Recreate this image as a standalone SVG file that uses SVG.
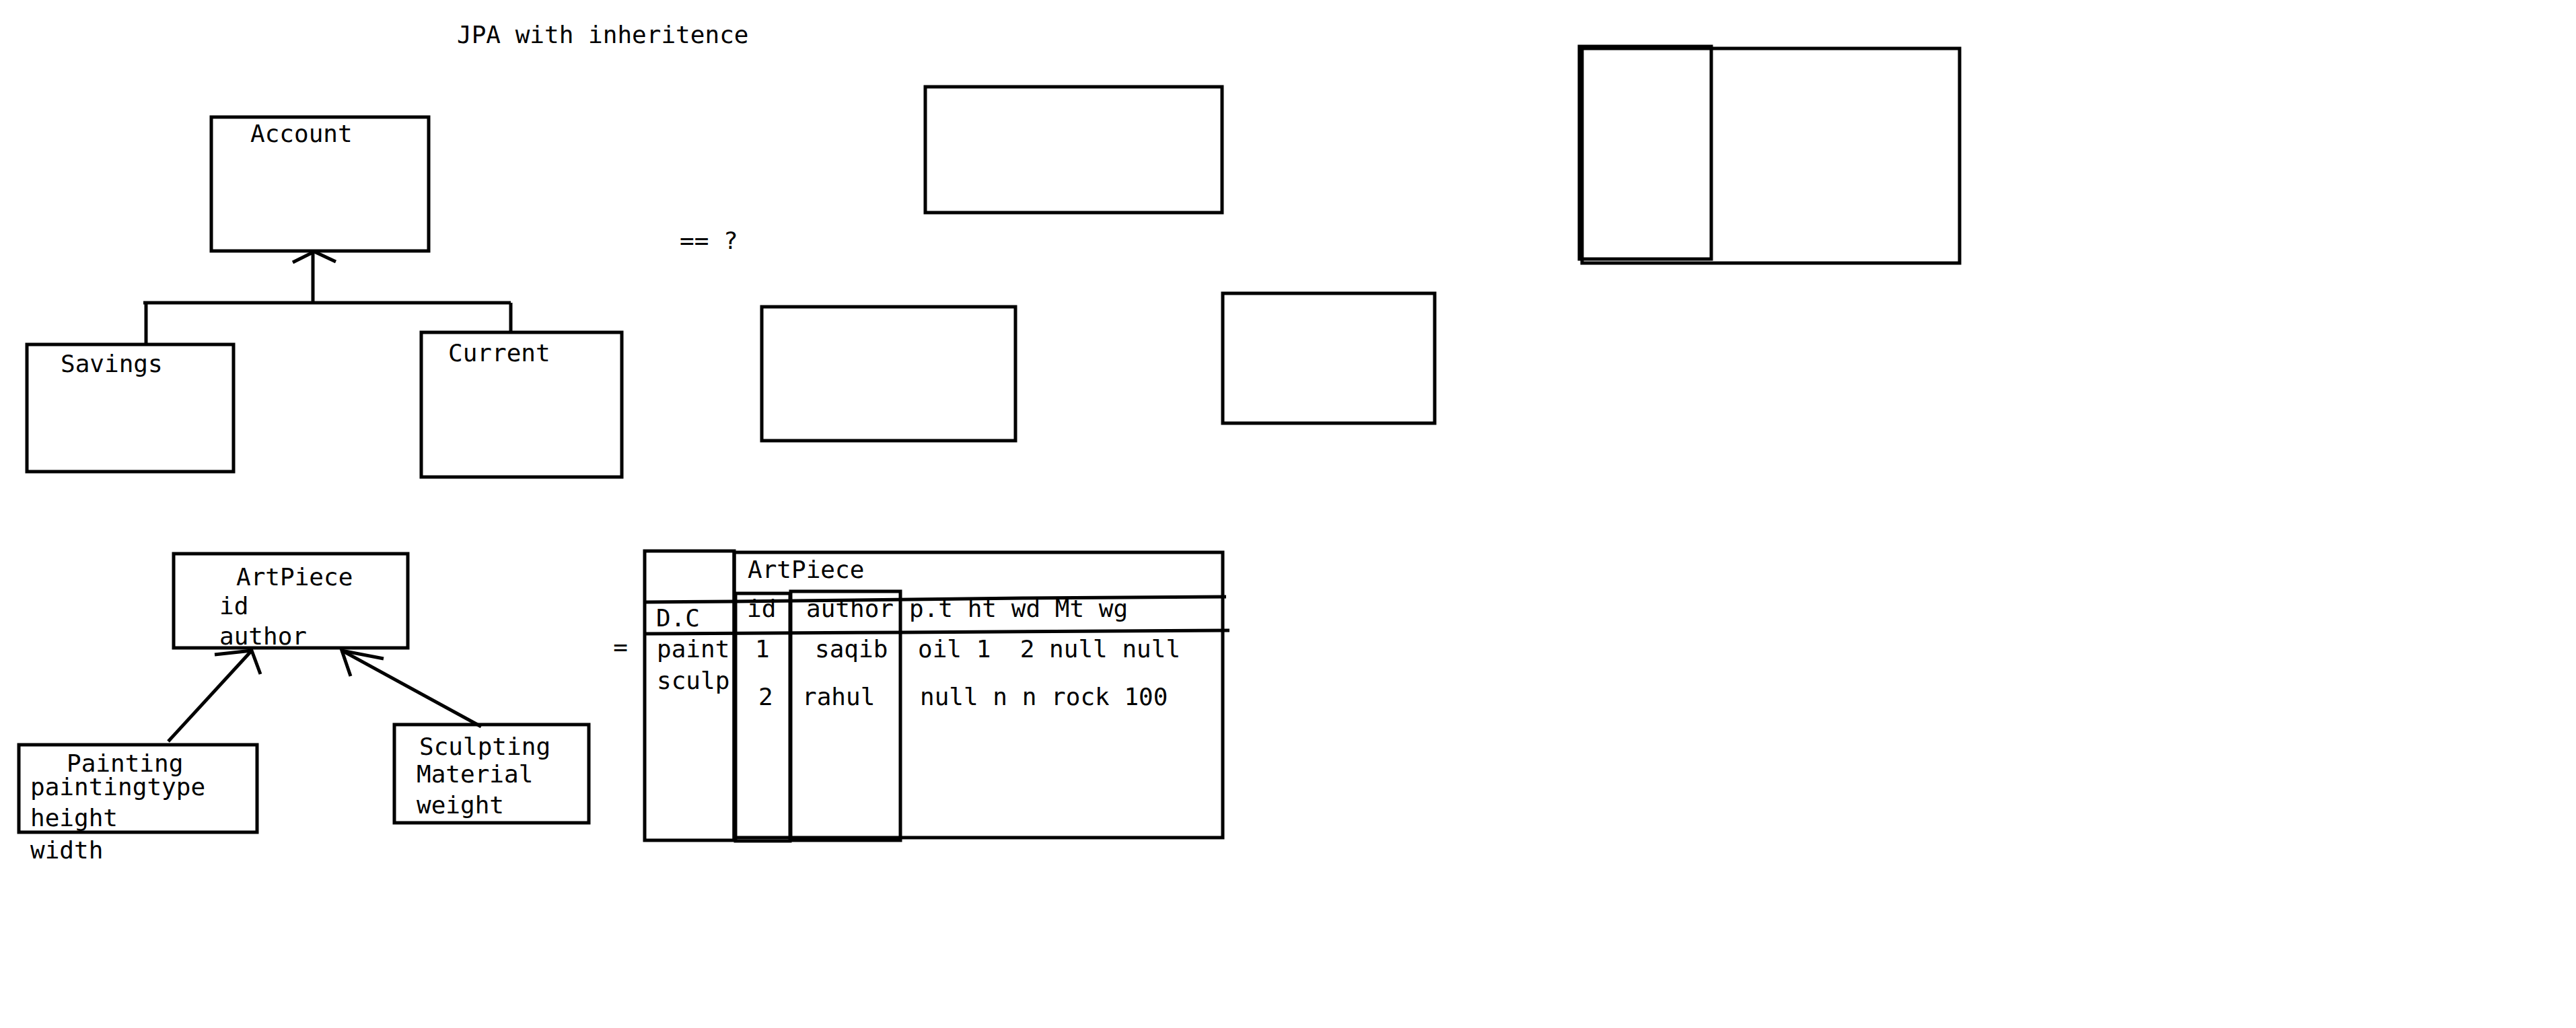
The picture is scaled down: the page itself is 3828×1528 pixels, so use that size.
<svg xmlns="http://www.w3.org/2000/svg" width="3828" height="1528" viewBox="0 0 3828 1528">
<style>
text{font-family:"DejaVu Sans Mono","Liberation Mono",monospace;font-size:36px;fill:#000;white-space:pre}
.b{fill:none;stroke:#000;stroke-width:5}
.c{fill:none;stroke:#000;stroke-width:5;stroke-linecap:butt}
</style>
<rect width="3828" height="1528" fill="#fff"/>
<g id="title"><text x="679" y="64">JPA with inheritence</text></g>
<g id="account"><rect class="b" x="314" y="174" width="323" height="199"/><text x="372" y="211">Account</text></g>
<g id="savings"><rect class="b" x="40" y="512" width="307" height="189"/><text x="90" y="553">Savings</text></g>
<g id="current"><rect class="b" x="626" y="494" width="298" height="215"/><text x="666" y="537">Current</text></g>
<g id="eq-question"><text x="1010" y="370" xml:space="preserve">== ?</text></g>
<g id="box-a"><rect class="b" x="1375" y="129" width="441" height="187"/></g>
<g id="box-b"><rect class="b" x="1132" y="456" width="377" height="199"/></g>
<g id="box-c"><rect class="b" x="1817" y="436" width="315" height="193"/></g>
<g id="box-d"><rect class="b" x="2351" y="72" width="561" height="319"/></g>
<g id="box-e"><rect class="b" x="2347" y="69" width="196" height="316"/></g>
<g id="artpiece"><rect class="b" x="258" y="823" width="348" height="140"/><text x="351" y="870">ArtPiece</text><text x="326" y="913">id</text><text x="326" y="958">author</text></g>
<g id="painting"><rect class="b" x="28" y="1107" width="354" height="130"/><text x="99" y="1147">Painting</text><text x="45" y="1182">paintingtype</text><text x="45" y="1228">height</text><text x="45" y="1276">width</text></g>
<g id="sculpting"><rect class="b" x="586" y="1077" width="289" height="146"/><text x="623" y="1122">Sculpting</text><text x="619" y="1163">Material</text><text x="619" y="1209">weight</text></g>
<g id="equals"><text x="922" y="974" text-anchor="middle">=</text></g>
<g id="table">
<rect class="b" x="958" y="819" width="133" height="430"/>
<rect class="b" x="1091" y="821" width="726" height="424"/>
<rect class="b" x="1093" y="882" width="81" height="368"/>
<rect class="b" x="1175" y="879" width="163" height="370"/>
<polyline class="c" points="956,895 1091,894 1520,889 1822,887"/>
<polyline class="c" points="956,942 1340,940 1827,937"/>
<text x="1111" y="859">ArtPiece</text>
<text x="975" y="931">D.C</text>
<text x="1110" y="917">id</text>
<text x="1198" y="917">author</text>
<text x="1351" y="917" xml:space="preserve">p.t ht wd Mt wg</text>
<text x="976" y="977">paint</text>
<text x="1122" y="977">1</text>
<text x="1211" y="977">saqib</text>
<text x="1364" y="977" xml:space="preserve">oil 1  2 null null</text>
<text x="976" y="1024">sculp</text>
<text x="1127" y="1048">2</text>
<text x="1192" y="1048">rahul</text>
<text x="1367" y="1048" xml:space="preserve">null n n rock 100</text>
</g>
<g id="connectors">
<polyline class="c" points="465,452 465,375"/>
<polyline class="c" points="435,390 467,374 499,389"/>
<polyline class="c" points="213,450 759,450"/>
<polyline class="c" points="217,450 217,512"/>
<polyline class="c" points="759,450 759,494"/>
<polyline class="c" points="250,1102 374,967"/>
<polyline class="c" points="319,973 374,967 387,1002"/>
<polyline class="c" points="715,1080 508,967"/>
<polyline class="c" points="570,979 508,967 521,1005"/>
</g>
</svg>
